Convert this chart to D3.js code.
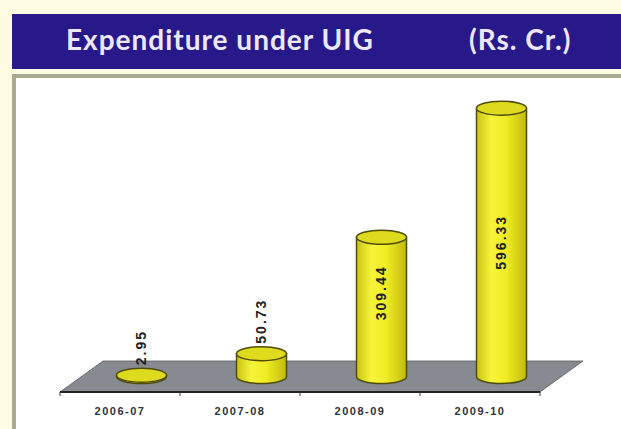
<!DOCTYPE html>
<html><head><meta charset="utf-8">
<script src="https://cdn.jsdelivr.net/npm/d3@7/dist/d3.min.js"></script>
<style>html,body{margin:0;padding:0;background:#fdfbe2;}svg{display:block;}</style>
</head><body>
<svg id="c" width="621" height="429"></svg>
<script>
const categories = ["2006-07", "2007-08", "2008-09", "2009-10"];
const values = [2.95, 50.73, 309.44, 596.33];
const labels = ["2.95", "50.73", "309.44", "596.33"];
const titleText = "Expenditure under UIG";
const unitText = "(Rs. Cr.)";

const svg = d3.select("#c");
svg.append("rect").attr("x",0).attr("y",0).attr("width",621).attr("height",429).attr("fill","#fdfbe2");
// header
svg.append("rect").attr("x",12).attr("y",14).attr("width",609).attr("height",55).attr("fill","#27198a");
svg.append("text").attr("x",66).attr("y",50).text(titleText)
  .attr("font-family","Lato, 'Open Sans', sans-serif").attr("font-weight","bold").attr("font-size",28)
  .attr("letter-spacing",1).attr("fill","#ece8fa");
svg.append("text").attr("x",469).attr("y",50).text(unitText)
  .attr("font-family","Lato, 'Open Sans', sans-serif").attr("font-weight","bold").attr("font-size",28)
  .attr("letter-spacing",1).attr("fill","#ece8fa");
// panel
svg.append("rect").attr("x",12).attr("y",74).attr("width",609).attr("height",4).attr("fill","#a9a98f");
svg.append("rect").attr("x",12).attr("y",74).attr("width",4).attr("height",355).attr("fill","#a9a98f");
svg.append("rect").attr("x",16).attr("y",78).attr("width",605).attr("height",351).attr("fill","#ffffff");

const floorY = 392, depthX = 43, depthY = -31;
const x = d3.scaleBand().domain(categories).range([60, 540]).padding(0);
const baseY = floorY + depthY/2;
const y = d3.scaleLinear().domain([0, 600]).range([baseY, baseY - 270]);

const defs = svg.append("defs");
const g = defs.append("linearGradient").attr("id","cyl").attr("x1","0").attr("x2","1").attr("y1","0").attr("y2","0");
g.append("stop").attr("offset","0%").attr("stop-color","#c9c414");
g.append("stop").attr("offset","30%").attr("stop-color","#f6f43a");
g.append("stop").attr("offset","60%").attr("stop-color","#efec22");
g.append("stop").attr("offset","100%").attr("stop-color","#bfba10");

// floor
const [r0, r1] = x.range();
svg.append("path")
  .attr("d", `M${r0},${floorY} L${r0+depthX},${floorY+depthY} L${r1+depthX},${floorY+depthY} L${r1},${floorY} Z`)
  .attr("fill","#878a90").attr("stroke","#5a5c60").attr("stroke-width",0.8);
svg.append("line").attr("x1",r0).attr("x2",r1).attr("y1",floorY).attr("y2",floorY)
  .attr("stroke","#222").attr("stroke-width",2.2);
// boundary ticks
const bounds = categories.map(c => x(c)).concat([r1]);
svg.selectAll(".btick").data(bounds).enter().append("line")
  .attr("x1",d=>d).attr("x2",d=>d).attr("y1",floorY).attr("y2",floorY+4)
  .attr("stroke","#333").attr("stroke-width",1);

// axis labels
const ax = svg.append("g").attr("transform",`translate(0,${floorY})`)
  .call(d3.axisBottom(x).tickSize(0).tickPadding(15));
ax.select(".domain").remove();
ax.selectAll("text").attr("font-family","Arial, 'Liberation Sans', sans-serif").attr("font-weight","bold")
  .attr("font-size",11).attr("letter-spacing",1.5).attr("fill","#333");

// cylinders
const rx = 25, ry = 7;
const data = categories.map((c,i)=>({c, v: values[i], l: labels[i]}));
const bars = svg.selectAll(".bar").data(data).enter().append("g");
bars.each(function(d){
  const gg = d3.select(this);
  const cx = x(d.c) + x.bandwidth()/2 + depthX/2;
  const yb = y(0), yt = y(d.v);
  gg.append("path")
    .attr("d", `M${cx-rx},${yt} L${cx-rx},${yb} A${rx},${ry} 0 0 0 ${cx+rx},${yb} L${cx+rx},${yt} Z`)
    .attr("fill","url(#cyl)").attr("stroke","#4f4d08").attr("stroke-width",1.5);
  gg.append("ellipse").attr("cx",cx).attr("cy",yt).attr("rx",rx).attr("ry",ry)
    .attr("fill","#dedb1e").attr("stroke","#4f4d08").attr("stroke-width",1.5);
  const h = yb - yt;
  let ly, anchor;
  if (h > 80) { ly = (yt + yb)/2 - (h < 200 ? 14 : 0); anchor = "middle"; }
  else { ly = yt - ry - 3; anchor = "start"; }
  gg.append("text").attr("transform",`translate(${cx},${ly}) rotate(-90)`)
    .attr("text-anchor",anchor).attr("dy","0.35em").text(d.l)
    .attr("font-family","Arial, 'Liberation Sans', sans-serif").attr("font-weight","bold")
    .attr("font-size",14).attr("letter-spacing",2).attr("fill","#222");
});
</script>
</body></html>
